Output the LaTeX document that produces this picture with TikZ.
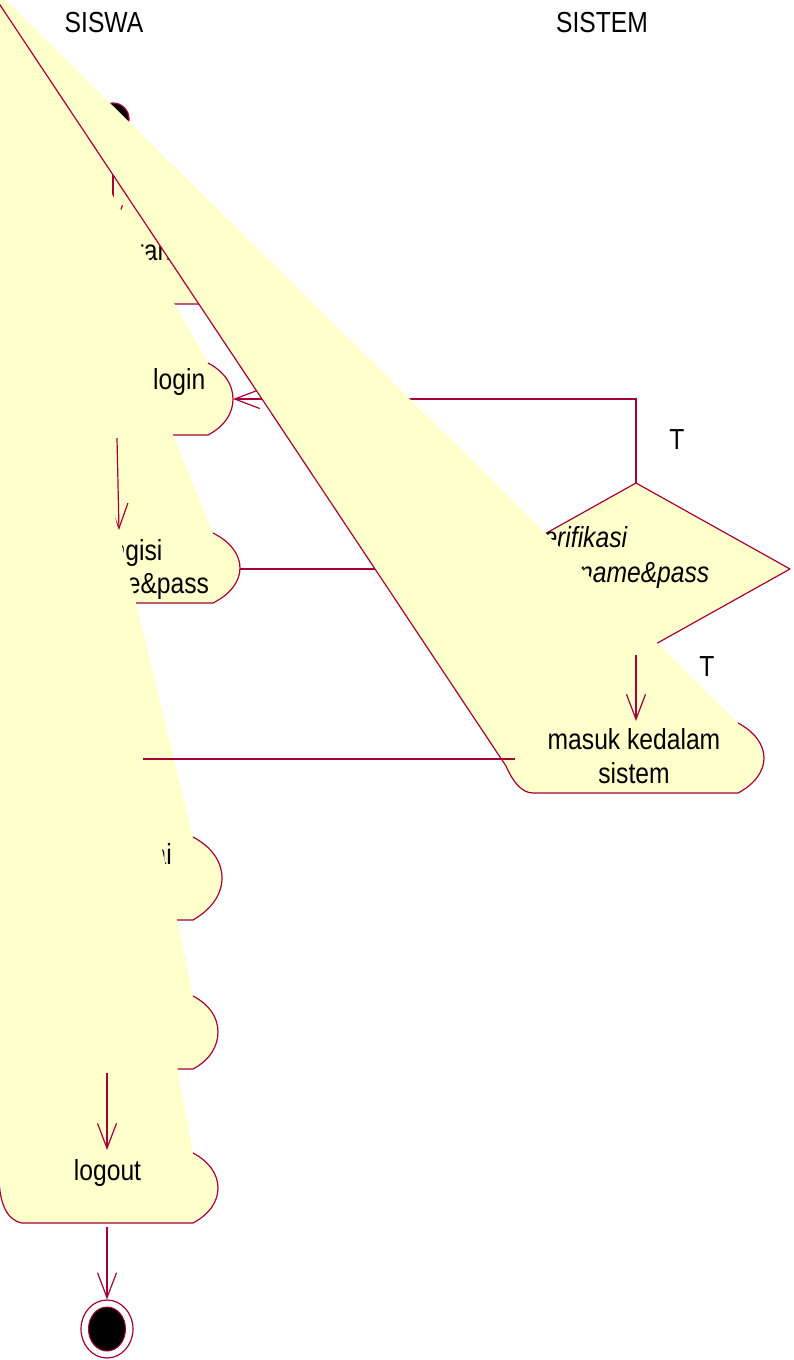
\documentclass[tikz,border=0pt]{standalone}
\usepackage{fontspec}
\setmainfont{Liberation Sans}[FakeStretch=0.85]
\usetikzlibrary{arrows.meta,shapes.geometric}

\definecolor{roseline}{RGB}{165,0,55}
\definecolor{rosefill}{RGB}{255,255,204}

\tikzset{
	act/.style={fill=rosefill, draw=roseline, line width=1.2pt, line join=round},
	link/.style={draw=roseline, line width=1.2pt},
	flow/.style={link, -{Straight Barb[length=25pt,width=19pt]}},
	lbl/.style={inner sep=0pt, font=\fontsize{29}{33.5}\selectfont},
}

\begin{document}
\begin{tikzpicture}[x=1pt,y=-1pt]
	\useasboundingbox (0,0) rectangle (793,1360);
	\clip (0,0) rectangle (793,1360);

	% swimlanes
	\node[lbl, anchor=base] (siswa) at (104,32) {SISWA};
	\node[lbl, anchor=base] (sistem) at (602,32) {SISTEM};

	% start
	\node[circle, fill=black, draw=roseline, line width=1.2pt, minimum size=32pt, inner sep=0pt] (start) at (113,119) {};

	% beranda
	\filldraw[act] (230,234) .. controls (247,243) and (255,256) .. (255,269)
		.. controls (255,282) and (247,295) .. (230,304) -- (20,304)
		.. controls (6,297) and (-4,284) .. (-5,269) -- (-20,-20);
		\node[lbl, anchor=base west] (beranda) at (108,260) {beranda};
		\coordinate (beranda-n) at (113,232);
	\draw[flow] (start) -- (beranda-n);

	% login
	\filldraw[act] (208,363) .. controls (225,372) and (233,385) .. (233,399)
		.. controls (233,413) and (225,426) .. (208,435) -- (20,435)
		.. controls (6,428) and (-4,414) .. (-5,399) -- (-10,-20);
		\node[lbl, anchor=base west] (login) at (153,389) {login};
		\coordinate (login-e) at (233,399);
		\coordinate (login-s) at (117,438);

	% mengisi username&pass
	\filldraw[act] (213,533) .. controls (231,542) and (240,555) .. (240,568)
		.. controls (240,581) and (231,594) .. (213,603) -- (20,603)
		.. controls (6,596) and (-4,582) .. (-5,568) -- (-12.7,-20);
		\node[lbl, anchor=base, align=center, font=\fontsize{29}{33}\selectfont] (isi) at (120,593) {mengisi\\username\&pass};
		\coordinate (isi-n) at (119,530);
		\coordinate (isi-e) at (240,569);
	\draw[flow] (login-s) -- (isi-n);

	% lihat nilai
	\filldraw[act] (193,837) .. controls (212,847) and (222,862) .. (222,878)
		.. controls (222,894) and (212,909) .. (193,920) -- (20,920)
		.. controls (6,911) and (-4,894) .. (-5,878) -- (-15.8,-20);
		\node[lbl, anchor=base east] (nilai) at (172,864) {lihat nilai};
		\coordinate (nilai-e) at (143,759);

	% aktivitas 5
	\filldraw[act] (193,996) .. controls (210,1005) and (218,1018) .. (218,1032)
		.. controls (218,1046) and (210,1060) .. (193,1069) -- (20,1069)
		.. controls (6,1060) and (-4,1046) .. (-5,1032) -- (-21,-20);
		\coordinate (akt-s) at (107,1073);

	% logout
	\filldraw[act] (193,1153) .. controls (210,1162) and (218,1175) .. (218,1188)
		.. controls (218,1201) and (210,1214) .. (193,1223) -- (22,1223)
		.. controls (6,1220) and (0,1202) .. (-1,1180) -- (-22,-20);
		\node[lbl, anchor=base] (logout) at (107.5,1180) {logout};
		\coordinate (logout-n) at (107,1150);
		\coordinate (logout-s) at (107,1227);
	\draw[flow] (akt-s) -- (logout-n);

	% end
	\node[ellipse, draw=roseline, line width=1.2pt, minimum width=52pt, minimum height=58pt, inner sep=0pt] (end) at (107,1329) {};
	\node[ellipse, fill=black, draw=roseline, line width=1pt, minimum width=37pt, minimum height=44pt, inner sep=0pt] (endin) at (end.center) {};
	\draw[flow] (logout-s) -- (end);

	% verifikasi
	\coordinate (verify-n) at (636,483);
	\coordinate (verify-e) at (790,569);
	\coordinate (verify-s) at (636,655);
	\coordinate (verify-w) at (482,569);
	\filldraw[act] (verify-n) -- (verify-e) -- (verify-s) -- (verify-w) -- cycle;
		\node[lbl, anchor=base west, align=left, font=\fontsize{29}{35}\selectfont\itshape] (verify) at (531,582) {verifikasi\\username\&pass};
		\node[lbl, anchor=base] (t1) at (677,449) {T};
	\draw[flow] (verify-n) |- (login-e);
	\draw[link] (isi-e) -- (verify-w);

	% masuk kedalam sistem
	\filldraw[act] (738,723) .. controls (755,732) and (764,745) .. (764,758)
		.. controls (764,771) and (755,784) .. (738,793) -- (533,793)
		.. controls (521,793) and (512,780) .. (506,766) -- (-20.3,-25.6);
		\node[lbl, anchor=base, align=center, font=\fontsize{29}{34}\selectfont] (masuk) at (634,783) {masuk kedalam\\sistem};
		\coordinate (masuk-n) at (636,721);
		\coordinate (masuk-w) at (515,759);
		\node[lbl, anchor=base] (t2) at (707,676) {T};
	\draw[flow] (verify-s) -- (masuk-n);
	\draw[link] (masuk-w) -- (nilai-e);
\end{tikzpicture}
\end{document}
